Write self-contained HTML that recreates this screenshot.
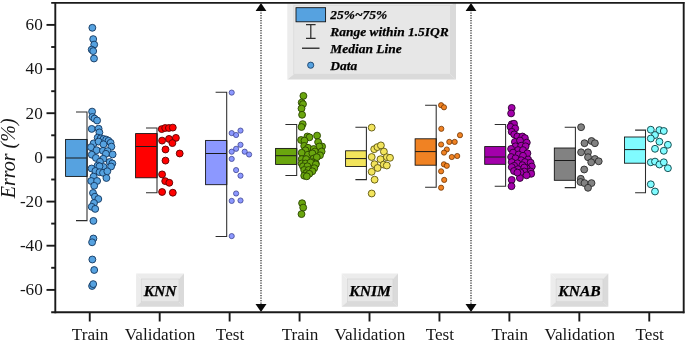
<!DOCTYPE html>
<html><head><meta charset="utf-8"><title>Error box chart</title>
<style>
html,body{margin:0;padding:0;background:#fff;}
body{width:685px;height:342px;overflow:hidden;}
svg{display:block;}
text{font-family:"Liberation Serif","Times New Roman",serif;fill:#161616;}
.tk{font-size:17.2px;}
.bi{font-weight:bold;font-style:italic;fill:#000;stroke:#000;stroke-width:0.25px;}
</style></head><body>
<svg width="685" height="342" viewBox="0 0 685 342">
<rect x="0" y="0" width="685" height="342" fill="#ffffff"/>

<g>
<polygon points="287.3,3.0 456.0,3.0 450.3,5.3 293.8,5.3" fill="#ececec"/>
<polygon points="287.3,3.0 293.8,5.3 293.8,74.2 287.3,79.5" fill="#ececec"/>
<polygon points="456.0,3.0 456.0,79.5 450.3,74.2 450.3,5.3" fill="#dadada"/>
<polygon points="287.3,79.5 293.8,74.2 450.3,74.2 456.0,79.5" fill="#dadada"/>
<rect x="293.8" y="5.3" width="156.5" height="68.9" fill="#e7e7e7" stroke="#d2d2d2" stroke-width="0.6"/>
<rect x="296" y="7.7" width="29.6" height="14.1" fill="#56a2e0" stroke="#0c0c0c" stroke-width="0.85"/>
<path d="M306,24.7H315.6M310.8,24.7V38.3M306,38.3H315.6" stroke="#2e2e2e" stroke-width="1.25" fill="none"/>
<path d="M302,48.2H319.5" stroke="#111" stroke-width="1.2" fill="none"/>
<circle cx="310.7" cy="65.2" r="3.1" fill="#56a2e0" stroke="#12365e" stroke-width="0.8"/>
<text class="bi" x="330.3" y="18.7" font-size="13.45">25%~75%</text>
<text class="bi" x="330.3" y="35.7" font-size="13.45">Range within 1.5IQR</text>
<text class="bi" x="330.3" y="52.6" font-size="13.45">Median Line</text>
<text class="bi" x="330.3" y="69.6" font-size="13.45">Data</text>
</g>
<polygon points="136.1,273.5 184.0,273.5 178.9,279.0 141.2,279.0" fill="#ececec"/>
<polygon points="136.1,273.5 141.2,279.0 141.2,301.7 136.1,306.8" fill="#ececec"/>
<polygon points="184.0,273.5 184.0,306.8 178.9,301.7 178.9,279.0" fill="#dadada"/>
<polygon points="136.1,306.8 141.2,301.7 178.9,301.7 184.0,306.8" fill="#dadada"/>
<rect x="141.2" y="279.0" width="37.7" height="22.7" fill="#e7e7e7" stroke="#d2d2d2" stroke-width="0.6"/>
<text class="bi" x="160.1" y="295.5" font-size="15.6" text-anchor="middle">KNN</text>
<polygon points="341.7,273.5 398.0,273.5 392.9,279.0 347.3,279.0" fill="#ececec"/>
<polygon points="341.7,273.5 347.3,279.0 347.3,301.7 341.7,306.8" fill="#ececec"/>
<polygon points="398.0,273.5 398.0,306.8 392.9,301.7 392.9,279.0" fill="#dadada"/>
<polygon points="341.7,306.8 347.3,301.7 392.9,301.7 398.0,306.8" fill="#dadada"/>
<rect x="347.3" y="279.0" width="45.6" height="22.7" fill="#e7e7e7" stroke="#d2d2d2" stroke-width="0.6"/>
<text class="bi" x="370.1" y="295.5" font-size="15.6" text-anchor="middle">KNIM</text>
<polygon points="550.5,273.5 608.3,273.5 602.9,279.0 556.1,279.0" fill="#ececec"/>
<polygon points="550.5,273.5 556.1,279.0 556.1,301.7 550.5,306.8" fill="#ececec"/>
<polygon points="608.3,273.5 608.3,306.8 602.9,301.7 602.9,279.0" fill="#dadada"/>
<polygon points="550.5,306.8 556.1,301.7 602.9,301.7 608.3,306.8" fill="#dadada"/>
<rect x="556.1" y="279.0" width="46.8" height="22.7" fill="#e7e7e7" stroke="#d2d2d2" stroke-width="0.6"/>
<text class="bi" x="579.5" y="295.5" font-size="15.6" text-anchor="middle">KNAB</text>
<path d="M261.0,10V304" stroke="#222" stroke-width="1.2" stroke-dasharray="1.25 1.25" fill="none"/>
<polygon points="261.0,3.0 255.6,10.9 266.4,10.9" fill="#0a0a0a"/>
<polygon points="261.0,311.9 255.5,304.1 266.5,304.1" fill="#0a0a0a"/>
<path d="M471.0,10V304" stroke="#222" stroke-width="1.2" stroke-dasharray="1.25 1.25" fill="none"/>
<polygon points="471.0,3.0 465.6,10.9 476.4,10.9" fill="#0a0a0a"/>
<polygon points="471.0,311.9 465.5,304.1 476.5,304.1" fill="#0a0a0a"/>
<g>
<path d="M76.0,111.9H87.0V220.6H76.0" stroke="#2c2c2c" stroke-width="1.05" fill="none"/>
<rect x="65.6" y="139.4" width="21.4" height="37.0" fill="#56a2e0" stroke="#0c0c0c" stroke-width="0.85"/>
<path d="M65.6,158.0H87.0" stroke="#1a1a1a" stroke-width="1" fill="none"/>
<path d="M87.0,139.4V176.4" stroke="#2c2c2c" stroke-width="1.05" fill="none"/>
<g fill="#56a2e0" stroke="#12365e" stroke-width="0.9">
<circle cx="92.35" cy="27.8" r="3.45"/>
<circle cx="93.2" cy="39.1" r="3.45"/>
<circle cx="94.2" cy="44.6" r="3.45"/>
<circle cx="91.7" cy="49.6" r="3.45"/>
<circle cx="93.2" cy="51.1" r="3.45"/>
<circle cx="94.0" cy="58.5" r="3.45"/>
<circle cx="92.1" cy="111.6" r="3.45"/>
<circle cx="92.4" cy="117" r="3.45"/>
<circle cx="94.5" cy="118.6" r="3.45"/>
<circle cx="97.1" cy="120.5" r="3.45"/>
<circle cx="91.7" cy="128.9" r="3.45"/>
<circle cx="98.6" cy="128.7" r="3.45"/>
<circle cx="99.4" cy="132.4" r="3.45"/>
<circle cx="97.7" cy="137.6" r="3.45"/>
<circle cx="100.6" cy="138.4" r="3.45"/>
<circle cx="103.5" cy="139" r="3.45"/>
<circle cx="106.2" cy="139.6" r="3.45"/>
<circle cx="108.5" cy="140.8" r="3.45"/>
<circle cx="110.6" cy="142.8" r="3.45"/>
<circle cx="93.6" cy="143.4" r="3.45"/>
<circle cx="98.6" cy="141.6" r="3.45"/>
<circle cx="103.5" cy="144.3" r="3.45"/>
<circle cx="111.4" cy="146.6" r="3.45"/>
<circle cx="91" cy="147.2" r="3.45"/>
<circle cx="96.6" cy="150.2" r="3.45"/>
<circle cx="103" cy="150.8" r="3.45"/>
<circle cx="107.6" cy="151.1" r="3.45"/>
<circle cx="91.8" cy="154.7" r="3.45"/>
<circle cx="112.6" cy="154.4" r="3.45"/>
<circle cx="105.9" cy="153.8" r="3.45"/>
<circle cx="95.9" cy="157.9" r="3.45"/>
<circle cx="103.3" cy="158.8" r="3.45"/>
<circle cx="100" cy="161.7" r="3.45"/>
<circle cx="109.7" cy="162" r="3.45"/>
<circle cx="112.3" cy="163.5" r="3.45"/>
<circle cx="97.7" cy="165.5" r="3.45"/>
<circle cx="103.5" cy="167" r="3.45"/>
<circle cx="91.6" cy="168.5" r="3.45"/>
<circle cx="111.1" cy="166.5" r="3.45"/>
<circle cx="99.5" cy="166.3" r="3.45"/>
<circle cx="95.4" cy="171" r="3.45"/>
<circle cx="99.5" cy="172.2" r="3.45"/>
<circle cx="103" cy="172.8" r="3.45"/>
<circle cx="107.3" cy="171.3" r="3.45"/>
<circle cx="93.6" cy="176.6" r="3.45"/>
<circle cx="106.4" cy="178" r="3.45"/>
<circle cx="91.2" cy="181" r="3.45"/>
<circle cx="97.1" cy="181" r="3.45"/>
<circle cx="94.2" cy="185.8" r="3.45"/>
<circle cx="93" cy="193" r="3.45"/>
<circle cx="94.9" cy="196.7" r="3.45"/>
<circle cx="98.3" cy="199" r="3.45"/>
<circle cx="94" cy="203" r="3.45"/>
<circle cx="91.7" cy="206.8" r="3.45"/>
<circle cx="95.2" cy="208.9" r="3.45"/>
<circle cx="93.4" cy="220.9" r="3.45"/>
<circle cx="93.4" cy="238.5" r="3.45"/>
<circle cx="92.1" cy="242.3" r="3.45"/>
<circle cx="92.35" cy="259.5" r="3.45"/>
<circle cx="94.2" cy="270" r="3.45"/>
<circle cx="92.1" cy="286" r="3.45"/>
<circle cx="93.2" cy="284.1" r="3.45"/>
</g></g>
<g>
<path d="M146.0,128.0H157.0V192.7H146.0" stroke="#2c2c2c" stroke-width="1.05" fill="none"/>
<rect x="135.6" y="133.6" width="21.4" height="44.2" fill="#ff0000" stroke="#0c0c0c" stroke-width="0.85"/>
<path d="M135.6,146.5H157.0" stroke="#1a1a1a" stroke-width="1" fill="none"/>
<path d="M157.0,133.6V177.8" stroke="#2c2c2c" stroke-width="1.05" fill="none"/>
<g fill="#ff0000" stroke="#5a0000" stroke-width="0.9">
<circle cx="161.7" cy="129.1" r="3.45"/>
<circle cx="165.2" cy="128" r="3.45"/>
<circle cx="168.9" cy="128" r="3.45"/>
<circle cx="172.8" cy="127.6" r="3.45"/>
<circle cx="162.1" cy="140.6" r="3.45"/>
<circle cx="169" cy="138.9" r="3.45"/>
<circle cx="175.9" cy="137.9" r="3.45"/>
<circle cx="172.4" cy="143.1" r="3.45"/>
<circle cx="165.5" cy="149.5" r="3.45"/>
<circle cx="179.7" cy="153.5" r="3.45"/>
<circle cx="165.5" cy="160.6" r="3.45"/>
<circle cx="162.1" cy="174.4" r="3.45"/>
<circle cx="165.2" cy="181.1" r="3.45"/>
<circle cx="169.3" cy="182.8" r="3.45"/>
<circle cx="162.1" cy="192" r="3.45"/>
<circle cx="172.8" cy="192.7" r="3.45"/>
</g></g>
<g>
<path d="M215.6,92.3H226.7V236.5H215.6" stroke="#2c2c2c" stroke-width="1.05" fill="none"/>
<rect x="205.6" y="140.4" width="21.1" height="44.3" fill="#8c98ff" stroke="#0c0c0c" stroke-width="0.85"/>
<path d="M205.6,153.5H226.7" stroke="#1a1a1a" stroke-width="1" fill="none"/>
<path d="M226.7,140.4V184.7" stroke="#2c2c2c" stroke-width="1.05" fill="none"/>
<g fill="#8c98ff" stroke="#3a3f8a" stroke-width="0.75">
<circle cx="231.7" cy="92.6" r="2.6"/>
<circle cx="231.7" cy="133.1" r="2.6"/>
<circle cx="236.1" cy="135" r="2.6"/>
<circle cx="240.5" cy="130.6" r="2.6"/>
<circle cx="240.5" cy="144.8" r="2.6"/>
<circle cx="236.1" cy="148.8" r="2.6"/>
<circle cx="231.7" cy="151.7" r="2.6"/>
<circle cx="244.7" cy="151.7" r="2.6"/>
<circle cx="249.1" cy="154.5" r="2.6"/>
<circle cx="231.7" cy="158.9" r="2.6"/>
<circle cx="236.1" cy="170.1" r="2.6"/>
<circle cx="240.5" cy="175.7" r="2.6"/>
<circle cx="236.1" cy="193.5" r="2.6"/>
<circle cx="231.7" cy="200.9" r="2.6"/>
<circle cx="240.5" cy="200.5" r="2.6"/>
<circle cx="231.7" cy="236.1" r="2.6"/>
</g></g>
<g>
<path d="M285.4,124.5H296.7V175.5H285.4" stroke="#2c2c2c" stroke-width="1.05" fill="none"/>
<rect x="275.6" y="148.4" width="21.1" height="16.0" fill="#6aa60e" stroke="#0c0c0c" stroke-width="0.85"/>
<path d="M275.6,155.7H296.7" stroke="#1a1a1a" stroke-width="1" fill="none"/>
<path d="M296.7,148.4V164.4" stroke="#2c2c2c" stroke-width="1.05" fill="none"/>
<g fill="#6aa60e" stroke="#2a4500" stroke-width="0.9">
<circle cx="303.4" cy="95.9" r="3.45"/>
<circle cx="301.7" cy="102.6" r="3.45"/>
<circle cx="303" cy="104.1" r="3.45"/>
<circle cx="301.5" cy="108.5" r="3.45"/>
<circle cx="302.1" cy="114.8" r="3.45"/>
<circle cx="302.7" cy="124.1" r="3.45"/>
<circle cx="301.5" cy="127" r="3.45"/>
<circle cx="307.4" cy="136.5" r="3.45"/>
<circle cx="309.5" cy="137.3" r="3.45"/>
<circle cx="317.1" cy="135.6" r="3.45"/>
<circle cx="301.1" cy="140" r="3.45"/>
<circle cx="304.5" cy="140.6" r="3.45"/>
<circle cx="318.1" cy="142.1" r="3.45"/>
<circle cx="304.2" cy="145.9" r="3.45"/>
<circle cx="308" cy="147.8" r="3.45"/>
<circle cx="322.1" cy="146.5" r="3.45"/>
<circle cx="319.3" cy="146.5" r="3.45"/>
<circle cx="313.7" cy="149" r="3.45"/>
<circle cx="305.5" cy="150.3" r="3.45"/>
<circle cx="301.7" cy="152.8" r="3.45"/>
<circle cx="314.9" cy="151.5" r="3.45"/>
<circle cx="321.6" cy="151.5" r="3.45"/>
<circle cx="308" cy="154.7" r="3.45"/>
<circle cx="312.4" cy="153.4" r="3.45"/>
<circle cx="320" cy="155.3" r="3.45"/>
<circle cx="301.7" cy="159.1" r="3.45"/>
<circle cx="306.1" cy="159.1" r="3.45"/>
<circle cx="313.7" cy="158.5" r="3.45"/>
<circle cx="316.8" cy="157.2" r="3.45"/>
<circle cx="301.7" cy="163.5" r="3.45"/>
<circle cx="305.5" cy="163.5" r="3.45"/>
<circle cx="312.4" cy="162.2" r="3.45"/>
<circle cx="315.8" cy="163.5" r="3.45"/>
<circle cx="310.5" cy="162.5" r="3.45"/>
<circle cx="315.8" cy="164.4" r="3.45"/>
<circle cx="303" cy="166.3" r="3.45"/>
<circle cx="307.4" cy="166.3" r="3.45"/>
<circle cx="314.3" cy="168.2" r="3.45"/>
<circle cx="304.2" cy="170" r="3.45"/>
<circle cx="308.6" cy="170" r="3.45"/>
<circle cx="312.4" cy="171.3" r="3.45"/>
<circle cx="306.1" cy="173.2" r="3.45"/>
<circle cx="309.3" cy="173.8" r="3.45"/>
<circle cx="304.2" cy="175.7" r="3.45"/>
<circle cx="306.8" cy="176.3" r="3.45"/>
<circle cx="302.1" cy="203.2" r="3.45"/>
<circle cx="303.2" cy="207.6" r="3.45"/>
<circle cx="301.5" cy="214.1" r="3.45"/>
</g></g>
<g>
<path d="M355.4,127.2H366.4V179.6H355.4" stroke="#2c2c2c" stroke-width="1.05" fill="none"/>
<rect x="345.6" y="150.8" width="20.8" height="15.7" fill="#f2e45c" stroke="#0c0c0c" stroke-width="0.85"/>
<path d="M345.6,158.6H366.4" stroke="#1a1a1a" stroke-width="1" fill="none"/>
<path d="M366.4,150.8V166.5" stroke="#2c2c2c" stroke-width="1.05" fill="none"/>
<g fill="#f2e45c" stroke="#5c5510" stroke-width="0.9">
<circle cx="371.7" cy="127.6" r="3.45"/>
<circle cx="374.2" cy="149.2" r="3.45"/>
<circle cx="377.4" cy="147.1" r="3.45"/>
<circle cx="380.9" cy="145.4" r="3.45"/>
<circle cx="383.9" cy="151.6" r="3.45"/>
<circle cx="371.7" cy="157.0" r="3.45"/>
<circle cx="386.8" cy="157.2" r="3.45"/>
<circle cx="390" cy="157.8" r="3.45"/>
<circle cx="380.5" cy="159.2" r="3.45"/>
<circle cx="374.5" cy="164.2" r="3.45"/>
<circle cx="383.7" cy="164.6" r="3.45"/>
<circle cx="386.8" cy="165.5" r="3.45"/>
<circle cx="377.6" cy="168" r="3.45"/>
<circle cx="371.7" cy="171.8" r="3.45"/>
<circle cx="374.6" cy="179.7" r="3.45"/>
<circle cx="371.7" cy="193.5" r="3.45"/>
</g></g>
<g>
<path d="M425.1,105.2H436.2V187.3H425.1" stroke="#2c2c2c" stroke-width="1.05" fill="none"/>
<rect x="415.1" y="138.8" width="21.1" height="26.4" fill="#f08223" stroke="#0c0c0c" stroke-width="0.85"/>
<path d="M415.1,151.6H436.2" stroke="#1a1a1a" stroke-width="1" fill="none"/>
<path d="M436.2,138.8V165.2" stroke="#2c2c2c" stroke-width="1.05" fill="none"/>
<g fill="#f08223" stroke="#6a3000" stroke-width="0.75">
<circle cx="441.1" cy="105.2" r="2.6"/>
<circle cx="444" cy="107.3" r="2.6"/>
<circle cx="441.3" cy="128.8" r="2.6"/>
<circle cx="460" cy="135.2" r="2.6"/>
<circle cx="449.3" cy="141.9" r="2.6"/>
<circle cx="454.7" cy="141.9" r="2.6"/>
<circle cx="441.1" cy="144.5" r="2.6"/>
<circle cx="446.8" cy="149.5" r="2.6"/>
<circle cx="444" cy="152.6" r="2.6"/>
<circle cx="451.8" cy="157" r="2.6"/>
<circle cx="457.2" cy="156" r="2.6"/>
<circle cx="443.9" cy="164.3" r="2.6"/>
<circle cx="446.8" cy="165.8" r="2.6"/>
<circle cx="441.1" cy="171.3" r="2.6"/>
<circle cx="444.2" cy="179.9" r="2.6"/>
<circle cx="441.1" cy="187.7" r="2.6"/>
</g></g>
<g>
<path d="M494.7,124.5H505.6V186.2H494.7" stroke="#2c2c2c" stroke-width="1.05" fill="none"/>
<rect x="484.7" y="146.6" width="20.9" height="17.7" fill="#a300ab" stroke="#0c0c0c" stroke-width="0.85"/>
<path d="M484.7,157.0H505.6" stroke="#1a1a1a" stroke-width="1" fill="none"/>
<path d="M505.6,146.6V164.3" stroke="#2c2c2c" stroke-width="1.05" fill="none"/>
<g fill="#a300ab" stroke="#2a002e" stroke-width="0.9">
<circle cx="511.7" cy="107.9" r="3.45"/>
<circle cx="511.1" cy="113.4" r="3.45"/>
<circle cx="511.7" cy="124.3" r="3.45"/>
<circle cx="514" cy="123.7" r="3.45"/>
<circle cx="510.5" cy="126.8" r="3.45"/>
<circle cx="515.2" cy="128.4" r="3.45"/>
<circle cx="511.7" cy="131.8" r="3.45"/>
<circle cx="514.2" cy="134.4" r="3.45"/>
<circle cx="517.4" cy="136.5" r="3.45"/>
<circle cx="522.4" cy="136.5" r="3.45"/>
<circle cx="524.9" cy="138.1" r="3.45"/>
<circle cx="514.9" cy="141.9" r="3.45"/>
<circle cx="526.8" cy="142.6" r="3.45"/>
<circle cx="520" cy="140.5" r="3.45"/>
<circle cx="515.5" cy="146.3" r="3.45"/>
<circle cx="521.2" cy="145.7" r="3.45"/>
<circle cx="525.6" cy="146.3" r="3.45"/>
<circle cx="511.1" cy="148.9" r="3.45"/>
<circle cx="518" cy="150.1" r="3.45"/>
<circle cx="523" cy="150.1" r="3.45"/>
<circle cx="513" cy="152.6" r="3.45"/>
<circle cx="527.4" cy="153.3" r="3.45"/>
<circle cx="518.6" cy="154.5" r="3.45"/>
<circle cx="523" cy="155.8" r="3.45"/>
<circle cx="511.1" cy="157" r="3.45"/>
<circle cx="515.5" cy="158.3" r="3.45"/>
<circle cx="528.1" cy="159.5" r="3.45"/>
<circle cx="521.2" cy="160.2" r="3.45"/>
<circle cx="524.9" cy="162.1" r="3.45"/>
<circle cx="511.7" cy="162.1" r="3.45"/>
<circle cx="517.4" cy="163.3" r="3.45"/>
<circle cx="530.6" cy="162.7" r="3.45"/>
<circle cx="514.2" cy="165.8" r="3.45"/>
<circle cx="522.4" cy="165.2" r="3.45"/>
<circle cx="531.8" cy="166.5" r="3.45"/>
<circle cx="511.7" cy="167.1" r="3.45"/>
<circle cx="518" cy="169.2" r="3.45"/>
<circle cx="526.8" cy="168.4" r="3.45"/>
<circle cx="524.3" cy="167.5" r="3.45"/>
<circle cx="530.6" cy="171.5" r="3.45"/>
<circle cx="524.3" cy="171.5" r="3.45"/>
<circle cx="514" cy="171" r="3.45"/>
<circle cx="520.5" cy="172.5" r="3.45"/>
<circle cx="531.2" cy="173.8" r="3.45"/>
<circle cx="526.6" cy="175.3" r="3.45"/>
<circle cx="519.9" cy="178" r="3.45"/>
<circle cx="517.4" cy="172.6" r="3.45"/>
<circle cx="511.7" cy="179.9" r="3.45"/>
<circle cx="511.5" cy="186.2" r="3.45"/>
</g></g>
<g>
<path d="M564.7,127.2H575.4V187.6H564.7" stroke="#2c2c2c" stroke-width="1.05" fill="none"/>
<rect x="554.3" y="148.0" width="21.1" height="32.3" fill="#828282" stroke="#0c0c0c" stroke-width="0.85"/>
<path d="M554.3,160.5H575.4" stroke="#1a1a1a" stroke-width="1" fill="none"/>
<path d="M575.4,148.0V180.3" stroke="#2c2c2c" stroke-width="1.05" fill="none"/>
<g fill="#828282" stroke="#2a2a2a" stroke-width="0.9">
<circle cx="581.1" cy="127.2" r="3.45"/>
<circle cx="584.5" cy="143.2" r="3.45"/>
<circle cx="591.5" cy="141" r="3.45"/>
<circle cx="594.9" cy="143.2" r="3.45"/>
<circle cx="581.1" cy="152.3" r="3.45"/>
<circle cx="588" cy="152.3" r="3.45"/>
<circle cx="588" cy="157.2" r="3.45"/>
<circle cx="594.9" cy="159.0" r="3.45"/>
<circle cx="591.2" cy="162.3" r="3.45"/>
<circle cx="598.7" cy="161.3" r="3.45"/>
<circle cx="584.2" cy="169.5" r="3.45"/>
<circle cx="580.8" cy="178.8" r="3.45"/>
<circle cx="580.5" cy="182.0" r="3.45"/>
<circle cx="584.5" cy="183.1" r="3.45"/>
<circle cx="591.5" cy="183.1" r="3.45"/>
<circle cx="588" cy="187.8" r="3.45"/>
</g></g>
<g>
<path d="M635.1,130.1H645.5V192.7H635.1" stroke="#2c2c2c" stroke-width="1.05" fill="none"/>
<rect x="624.5" y="137.0" width="21.0" height="26.2" fill="#80fbff" stroke="#0c0c0c" stroke-width="0.85"/>
<path d="M624.5,149.6H645.5" stroke="#1a1a1a" stroke-width="1" fill="none"/>
<path d="M645.5,137.0V163.2" stroke="#2c2c2c" stroke-width="1.05" fill="none"/>
<g fill="#80fbff" stroke="#083e42" stroke-width="0.9">
<circle cx="650.8" cy="129.7" r="3.45"/>
<circle cx="659.4" cy="130.1" r="3.45"/>
<circle cx="663.8" cy="131" r="3.45"/>
<circle cx="655" cy="135" r="3.45"/>
<circle cx="650.8" cy="138.5" r="3.45"/>
<circle cx="659.4" cy="141.7" r="3.45"/>
<circle cx="667.9" cy="144.8" r="3.45"/>
<circle cx="655" cy="148.8" r="3.45"/>
<circle cx="663.8" cy="150.8" r="3.45"/>
<circle cx="650.8" cy="162.3" r="3.45"/>
<circle cx="655" cy="161.6" r="3.45"/>
<circle cx="659.4" cy="164.5" r="3.45"/>
<circle cx="663.8" cy="162.3" r="3.45"/>
<circle cx="667.9" cy="168.2" r="3.45"/>
<circle cx="650.8" cy="184.3" r="3.45"/>
<circle cx="655" cy="191.5" r="3.45"/>
</g></g>
<g stroke="#1a1a1a" stroke-width="1.9" fill="none">
<path d="M51.2,2.9H684.4"/>
<path d="M51.2,312.2H684.4"/>
<path d="M55.3,1.95V313.15"/>
<path d="M683.7,1.95V313.15"/>
<path d="M46.5,289.9H55"/>
<path d="M46.5,245.7H55"/>
<path d="M46.5,201.6H55"/>
<path d="M46.5,157.4H55"/>
<path d="M46.5,113.2H55"/>
<path d="M46.5,69.1H55"/>
<path d="M46.5,24.9H55"/>
<path d="M51.2,267.8H55"/>
<path d="M51.2,223.6H55"/>
<path d="M51.2,179.5H55"/>
<path d="M51.2,135.3H55"/>
<path d="M51.2,91.2H55"/>
<path d="M51.2,47.0H55"/>
<path d="M89.75,312.5V321.5"/>
<path d="M159.69,312.5V321.5"/>
<path d="M229.63,312.5V321.5"/>
<path d="M299.57,312.5V321.5"/>
<path d="M369.51,312.5V321.5"/>
<path d="M439.45,312.5V321.5"/>
<path d="M509.39,312.5V321.5"/>
<path d="M579.33,312.5V321.5"/>
<path d="M649.27,312.5V321.5"/>
</g>
<text class="tk" x="42.8" y="295.2" text-anchor="end">-60</text>
<text class="tk" x="42.8" y="251.0" text-anchor="end">-40</text>
<text class="tk" x="42.8" y="206.9" text-anchor="end">-20</text>
<text class="tk" x="42.8" y="162.7" text-anchor="end">0</text>
<text class="tk" x="42.8" y="118.5" text-anchor="end">20</text>
<text class="tk" x="42.8" y="74.4" text-anchor="end">40</text>
<text class="tk" x="42.8" y="30.2" text-anchor="end">60</text>
<text class="tk" x="90.15" y="340.4" text-anchor="middle">Train</text>
<text class="tk" x="160.09" y="340.4" text-anchor="middle">Validation</text>
<text class="tk" x="230.03" y="340.4" text-anchor="middle">Test</text>
<text class="tk" x="299.97" y="340.4" text-anchor="middle">Train</text>
<text class="tk" x="369.91" y="340.4" text-anchor="middle">Validation</text>
<text class="tk" x="439.85" y="340.4" text-anchor="middle">Test</text>
<text class="tk" x="509.79" y="340.4" text-anchor="middle">Train</text>
<text class="tk" x="579.73" y="340.4" text-anchor="middle">Validation</text>
<text class="tk" x="649.67" y="340.4" text-anchor="middle">Test</text>
<text font-size="20" font-style="italic" text-anchor="middle" transform="translate(15.4,158.3) rotate(-90)">Error (%)</text>
</svg></body></html>
